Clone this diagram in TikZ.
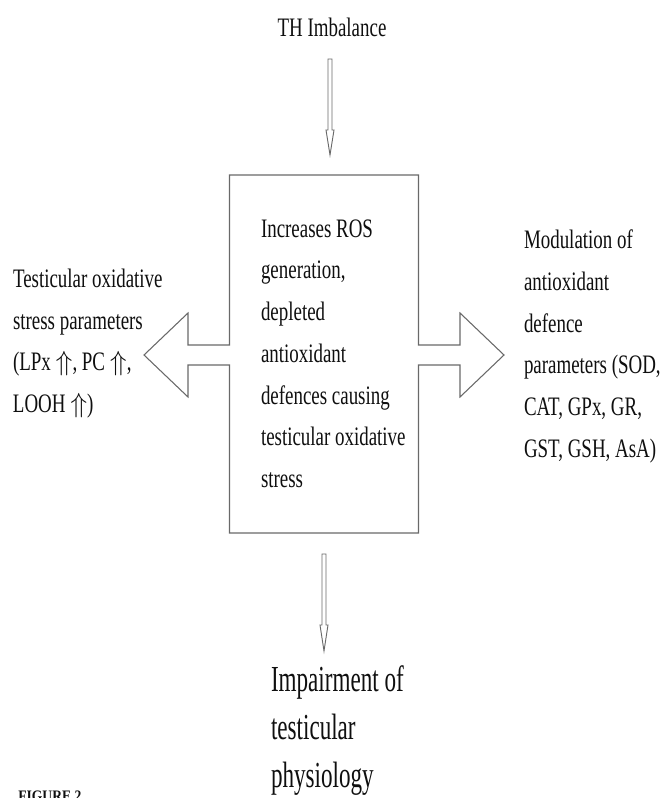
\documentclass[tikz,border=0pt]{standalone}
\usepackage{fontspec}
\setmainfont[FakeStretch=0.71]{Liberation Serif}
\newfontfamily\bigfont[FakeStretch=0.63]{Liberation Serif}
\newfontfamily\figfont[FakeStretch=0.85]{Liberation Serif}
\usetikzlibrary{calc}
\definecolor{linegray}{RGB}{105,105,105}
\definecolor{inkcol}{RGB}{15,15,15}
\begin{document}
\begin{tikzpicture}[x=0.75pt,y=-0.75pt,
  txt/.style={inner sep=0pt,outer sep=0pt,text=inkcol,align=left,font=\fontsize{20}{31.3}\selectfont},
  bigtxt/.style={inner sep=0pt,outer sep=0pt,text=inkcol,align=left,font=\bigfont\fontsize{27.5}{36}\selectfont},
  outline/.style={draw=linegray,line width=0.8pt,line join=miter,fill=white},
  corebox/.style={inner sep=0pt,outer sep=0pt,minimum width=141.75pt,minimum height=268.5pt}]
\useasboundingbox (0,0) rectangle (663,798);
\fill[white] (0,0) rectangle (663,798);

% shapes first
\node[txt,anchor=base] (th) at (332,37) {TH Imbalance};
\node[corebox] (core) at (324,354) {};

% box with the two block arrows (one outline)
\coordinate (bNW) at (core.north west);
\coordinate (bNE) at (core.north east);
\coordinate (bSW) at (core.south west);
\coordinate (bSE) at (core.south east);
\draw[outline]
  (bNW) -- (bNE)
  -- ($(core.east)+(0,-9)$) -- ($(core.east)+(41.5,-9)$) -- ($(core.east)+(41.5,-41)$)
  -- ($(core.east)+(85.5,1)$)
  -- ($(core.east)+(41.5,43)$) -- ($(core.east)+(41.5,11)$) -- ($(core.east)+(0,11)$)
  -- (bSE) -- (bSW)
  -- ($(core.west)+(0,11)$) -- ($(core.west)+(-41.5,11)$) -- ($(core.west)+(-41.5,43)$)
  -- ($(core.west)+(-85.5,1)$)
  -- ($(core.west)+(-41.5,-41)$) -- ($(core.west)+(-41.5,-9)$) -- ($(core.west)+(0,-9)$)
  -- cycle;

% thin arrow from TH Imbalance to box
\coordinate (tA) at ($(th.base)+(-2,22)$);
\coordinate (tB) at ($(core.north)+(6,-20)$);
\draw[outline,line width=0.7pt]
  ($(tA)+(-2,0)$) -- ($(tB)+(-2,-25)$) -- ($(tB)+(-4,-25)$) -- (tB)
  -- ($(tB)+(4,-25)$) -- ($(tB)+(2,-25)$) -- ($(tA)+(2,0)$) -- cycle;

% thin arrow from box to impairment text
\coordinate (uA) at ($(core.south)+(0,21)$);
\coordinate (uB) at ($(core.south)+(0,118)$);
\draw[outline,line width=0.7pt]
  ($(uA)+(-2,0)$) -- ($(uB)+(-2,-26)$) -- ($(uB)+(-4,-26)$) -- (uB)
  -- ($(uB)+(4,-26)$) -- ($(uB)+(2,-26)$) -- ($(uA)+(2,0)$) -- cycle;

% texts
\node[txt,anchor=north west] (coretext) at (261,219.5) {Increases ROS\\generation,\\depleted\\antioxidant\\defences causing\\testicular oxidative\\stress};
\node[txt,anchor=north west] (left) at (13,269) {Testicular oxidative\\stress parameters\\(LPx $\Uparrow$, PC $\Uparrow$,\\LOOH $\Uparrow$)};
\node[txt,anchor=north west] (right) at (524,230) {Modulation of\\antioxidant\\defence\\parameters (SOD,\\CAT, GPx, GR,\\GST, GSH, AsA)};
\node[bigtxt,anchor=north west] (impair) at (271,666) {Impairment of\\testicular\\physiology};
\node[inner sep=0pt,anchor=north west,text=inkcol,font=\figfont\bfseries\fontsize{12}{14}\selectfont] (fig) at (18,791) {FIGURE 2};
\end{tikzpicture}
\end{document}
